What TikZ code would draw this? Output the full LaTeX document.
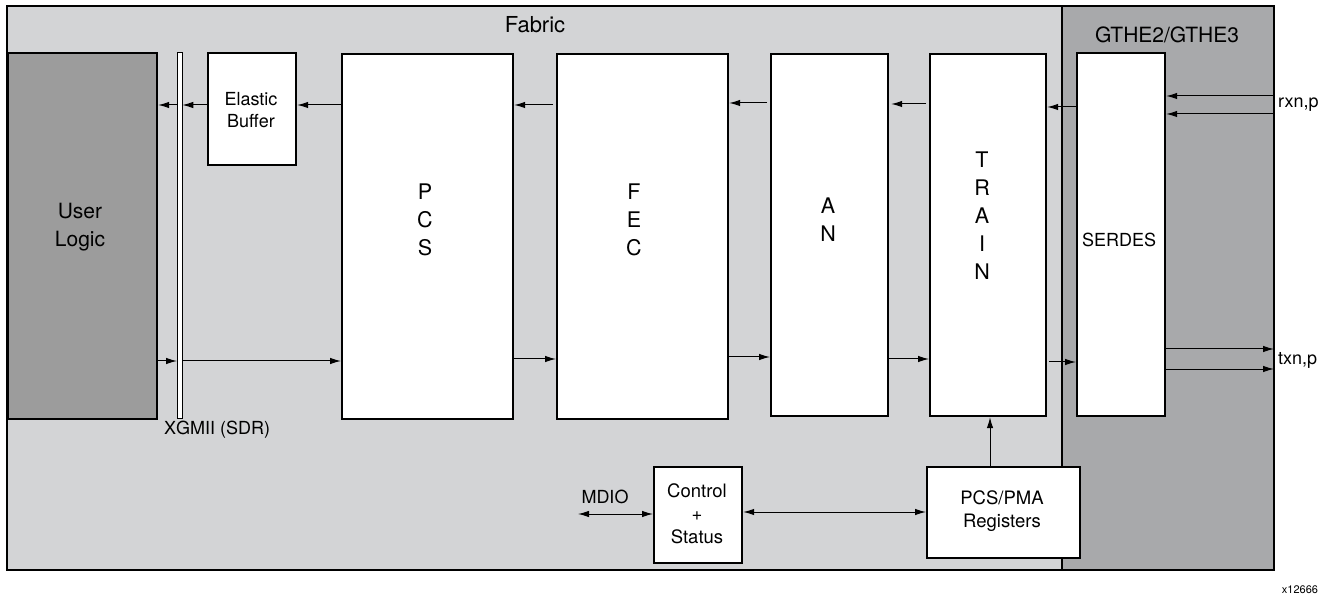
\documentclass[tikz,border=0pt]{standalone}
\usepackage{fontspec}
\setmainfont{TeX Gyre Heros}
\usetikzlibrary{arrows.meta}
\definecolor{fabricgray}{RGB}{211,212,214}
\definecolor{gthgray}{RGB}{168,169,171}
\definecolor{usergray}{RGB}{156,156,156}
\tikzset{
  blockbox/.style={draw=black, line width=2.2pt, fill=white, anchor=north west, inner sep=0pt},
  lbl/.style={font=\fontsize{18}{22}\selectfont, align=center, inner sep=0pt},
  stack/.style={font=\fontsize{21.5}{28}\selectfont, align=center, inner sep=0pt},
  sig/.style={line width=1pt, -{Latex[length=11pt,width=6.5pt]}},
  bisig/.style={line width=1pt, {Latex[length=11pt,width=6.5pt]}-{Latex[length=11pt,width=6.5pt]}},
}
\begin{document}
\begin{tikzpicture}[x=1pt,y=-1pt]
\useasboundingbox (0,0) rectangle (1330,601);
% regions
\draw[line width=2pt, fill=fabricgray] (7,6) rectangle (1062,570);
\draw[line width=2.5pt, fill=gthgray] (1062,6) rectangle (1274,570);
\node[lbl, font=\fontsize{22}{26}\selectfont] (fabriclbl) at (535,25) {Fabric};
\node[lbl, font=\fontsize{21}{26}\selectfont] (gthlbl) at (1167,35) {GTHE2/GTHE3};
% blocks
\node[blockbox, fill=usergray, minimum width=149pt, minimum height=366pt] (user) at (7,52) {};
\node[lbl, font=\fontsize{21}{28}\selectfont] (userlbl) at (80,227) {User\\Logic};
\node[draw=black, line width=0.8pt, fill=white, anchor=north west, inner sep=0pt, minimum width=4.5pt, minimum height=366pt] (xgmii) at (177,52) {};
\node[lbl] (xgmiilbl) at (217,430) {XGMII (SDR)};
\node[blockbox, minimum width=88pt, minimum height=112pt] (elastic) at (207,52) {};
\node[lbl] (elasticlbl) at (251,110) {Elastic\\Buffer};
\node[blockbox, minimum width=171pt, minimum height=365pt] (pcs) at (341,53) {};
\node[stack] (pcslbl) at (425,220) {P\\C\\S};
\node[blockbox, minimum width=171pt, minimum height=365pt] (fec) at (556,53) {};
\node[stack] (feclbl) at (634,220) {F\\E\\C};
\node[blockbox, minimum width=117pt, minimum height=362pt] (an) at (770,53) {};
\node[stack] (anlbl) at (828,220) {A\\N};
\node[blockbox, minimum width=116pt, minimum height=362pt] (train) at (929,53) {};
\node[stack] (trainlbl) at (982,216) {T\\R\\A\\I\\N};
\node[blockbox, minimum width=88pt, minimum height=363pt] (serdes) at (1076,52) {};
\node[lbl] (serdeslbl) at (1119,240) {SERDES};
\node[blockbox, minimum width=88pt, minimum height=96pt] (ctrl) at (653,466) {};
\node[lbl, font=\fontsize{18.5}{23}\selectfont] (ctrllbl) at (697,514) {Control\\+\\Status};
\node[blockbox, minimum width=153pt, minimum height=91pt] (regs) at (926,466) {};
\node[lbl, font=\fontsize{18.5}{23}\selectfont] (regslbl) at (1002,511) {PCS/PMA\\Registers};
\node[lbl] (mdiolbl) at (605,497) {MDIO};
\node[lbl, anchor=west] (rxlbl) at (1278,105) {rxn,p};
\node[lbl, anchor=west] (txlbl) at (1278,360) {txn,p};
\node[lbl, font=\fontsize{11}{13}\selectfont] (figid) at (1300,590) {x12666};
\coordinate (mdioend) at (578,514);
\coordinate (rxa) at (1274,96);
\coordinate (rxb) at (1274,114);
\coordinate (txa) at (1274,349);
\coordinate (txb) at (1274,369);
% receive path (top)
\draw[sig] (xgmii.west |- 0,105) -- (user.east |- 0,105);
\draw[sig] (elastic.west |- 0,105) -- (xgmii.east |- 0,105);
\draw[sig] (pcs.west |- 0,105) -- (elastic.east |- 0,105);
\draw[sig] ([xshift=-3pt]fec.west |- 0,105) -- (pcs.east |- 0,105);
\draw[sig] ([xshift=-3pt]an.west |- 0,103) -- (fec.east |- 0,103);
\draw[sig] ([xshift=-3pt]train.west |- 0,104) -- ([xshift=2pt]an.east |- 0,104);
\draw[sig] (serdes.west |- 0,107) -- (train.east |- 0,107);
\draw[sig] (rxa) -- (serdes.east |- rxa);
\draw[sig] (rxb) -- (serdes.east |- rxb);
% transmit path (bottom)
\draw[sig] (user.east |- 0,361) -- (xgmii.west |- 0,361);
\draw[sig] (xgmii.east |- 0,361) -- (pcs.west |- 0,361);
\draw[sig] (pcs.east |- 0,359) -- (fec.west |- 0,359);
\draw[sig] (fec.east |- 0,357) -- (an.west |- 0,357);
\draw[sig] (an.east |- 0,359) -- (train.west |- 0,359);
\draw[sig] ([xshift=2pt]train.east |- 0,362) -- (serdes.west |- 0,362);
\draw[sig] (serdes.east |- txa) -- (txa);
\draw[sig] (serdes.east |- txb) -- (txb);
% management
\draw[sig] (regs.north -| 990,0) -- (train.south -| 990,0);
\draw[bisig] (mdioend) -- (ctrl.west |- mdioend);
\draw[bisig] (ctrl.east |- 0,512) -- (regs.west |- 0,512);
\end{tikzpicture}
\end{document}
